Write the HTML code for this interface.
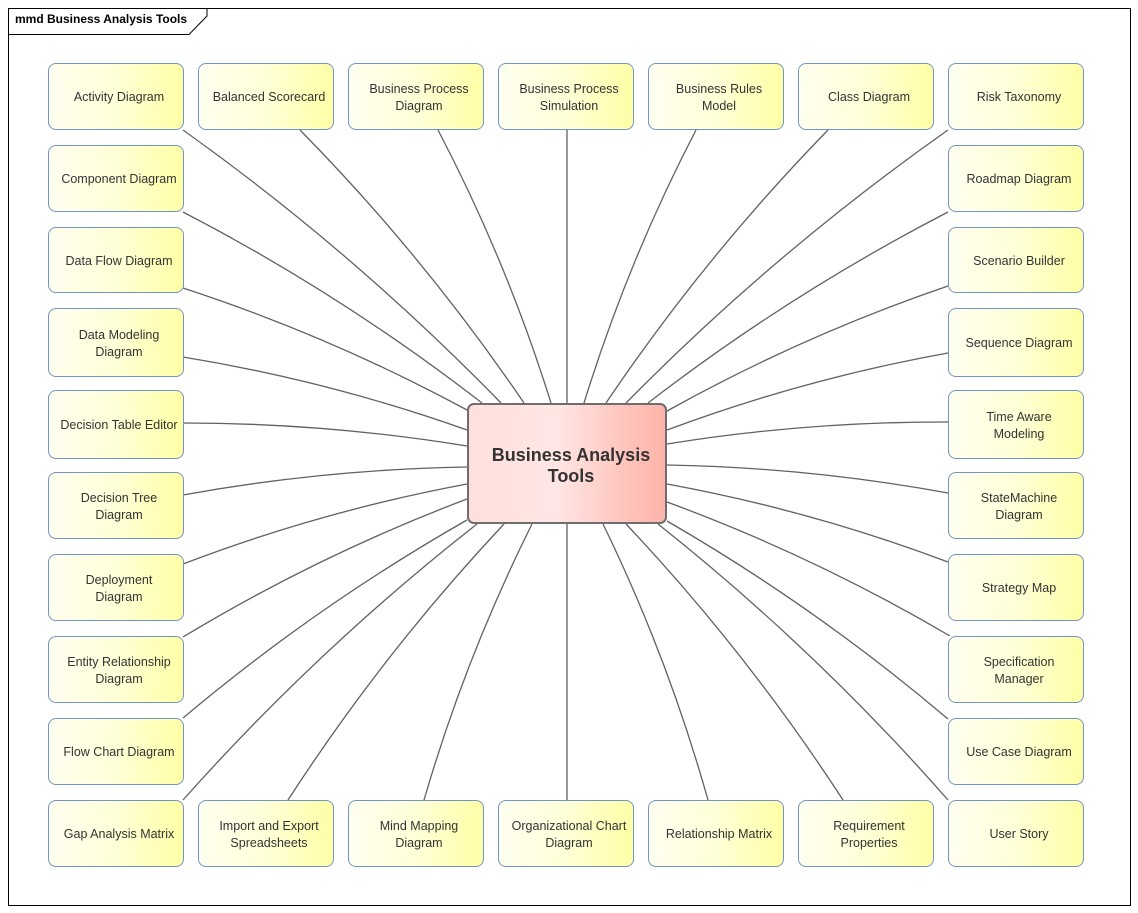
<!DOCTYPE html>
<html>
<head>
<meta charset="utf-8">
<style>
  html, body { margin:0; padding:0; background:#ffffff; }
  body { width:1138px; height:913px; position:relative; overflow:hidden; font-family:"Liberation Sans", Arial, sans-serif; }
  svg.bg { position:absolute; left:0; top:0; }
  .n {
    position:absolute; box-sizing:border-box; width:136px; height:67px;
    border:1.5px solid #7294c4; border-radius:8px;
    background:linear-gradient(to right, #fffff0 0%, #ffffd8 50%, #ffffa6 100%);
    display:flex; align-items:center; justify-content:center;
    padding-left:6px; padding-top:3px;
    font-size:12.5px; line-height:17.5px; color:#333; text-align:center; white-space:nowrap;
  }
  .c {
    position:absolute; box-sizing:border-box; left:467px; top:403px; width:200px; height:121px;
    border:2.5px solid #6e6e6e; border-radius:7px;
    background:linear-gradient(to right, #ffe0de 0%, #ffe6e4 45%, #ffc4bc 80%, #ffb4aa 100%);
    display:flex; align-items:center; justify-content:center; padding-left:8px; padding-top:5px;
    font-weight:bold; font-size:18px; line-height:21px; color:#333; text-align:center;
  }
  .title { position:absolute; left:15px; top:12px; font-weight:bold; font-size:12px; color:#000; white-space:nowrap; }
</style>
</head>
<body>
<svg class="bg" width="1138" height="913" viewBox="0 0 1138 913">
  <rect x="8.5" y="8.5" width="1122" height="897" fill="none" stroke="#000" stroke-width="1"/>
  <path d="M8.5 34.5 H189 L207 16 V8.5" fill="none" stroke="#000" stroke-width="1"/>
  <g fill="none" stroke="#616161" stroke-width="1.3">
    <!-- top row -->
    <path d="M183 130 Q354.3 252.2 501 403"/>
    <path d="M300 130 Q424.3 256.4 524 403"/>
    <path d="M438 130 Q506.8 261.4 551 403"/>
    <path d="M567 130 L567 403"/>
    <path d="M696 130 Q627.7 261.5 584 403"/>
    <path d="M828 130 Q704.7 256.5 606 403"/>
    <path d="M948 130 Q774.7 252 626 403"/>
    <!-- left column -->
    <path d="M183 212 Q341.1 294 482 403"/>
    <path d="M183 288 Q330.5 336.2 467 410"/>
    <path d="M183 357 Q328.3 380.7 467 430"/>
    <path d="M183 423 Q326 423 467 446"/>
    <path d="M183 495 Q323.2 469.5 467 467"/>
    <path d="M183 564 Q320.9 511.3 467 484"/>
    <path d="M183 637 Q318.3 555.3 467 499"/>
    <path d="M183 718 Q315.6 606.3 467 520"/>
    <path d="M183 800 Q317.6 648.8 477 524"/>
    <!-- bottom row -->
    <path d="M288 800 Q383.6 652.3 504 524"/>
    <path d="M424 800 Q465.6 657.1 532 524"/>
    <path d="M567 800 L567 524"/>
    <path d="M708 800 Q667.9 657.3 603 524"/>
    <path d="M843 800 Q746.9 652.2 626 524"/>
    <!-- right column -->
    <path d="M948 800 Q815.4 648.9 658 524"/>
    <path d="M948 719 Q816.4 607.4 667 521"/>
    <path d="M950 636 Q814.5 556.3 667 502"/>
    <path d="M948 562 Q811 510.4 667 484"/>
    <path d="M948 493 Q808.8 467.5 667 465"/>
    <path d="M948 422 Q806.5 421.5 667 444"/>
    <path d="M948 353 Q804 378.9 667 430"/>
    <path d="M948 286 Q801.9 335.9 667 411"/>
    <path d="M948 212 Q789.4 294 648 403"/>
  </g>
</svg>

<div class="title">mmd Business Analysis Tools</div>

<!-- top row -->
<div class="n" style="left:48px;top:63px;">Activity Diagram</div>
<div class="n" style="left:198px;top:63px;">Balanced Scorecard</div>
<div class="n" style="left:348px;top:63px;">Business Process<br>Diagram</div>
<div class="n" style="left:498px;top:63px;">Business Process<br>Simulation</div>
<div class="n" style="left:648px;top:63px;">Business Rules<br>Model</div>
<div class="n" style="left:798px;top:63px;">Class Diagram</div>
<div class="n" style="left:948px;top:63px;">Risk Taxonomy</div>

<!-- left column -->
<div class="n" style="left:48px;top:145px;">Component Diagram</div>
<div class="n" style="left:48px;top:227px;height:66px;">Data Flow Diagram</div>
<div class="n" style="left:48px;top:308px;height:69px;">Data Modeling<br>Diagram</div>
<div class="n" style="left:48px;top:390px;height:69px;">Decision Table Editor</div>
<div class="n" style="left:48px;top:472px;">Decision Tree<br>Diagram</div>
<div class="n" style="left:48px;top:554px;">Deployment<br>Diagram</div>
<div class="n" style="left:48px;top:636px;">Entity Relationship<br>Diagram</div>
<div class="n" style="left:48px;top:718px;">Flow Chart Diagram</div>
<div class="n" style="left:48px;top:800px;">Gap Analysis Matrix</div>

<!-- right column -->
<div class="n" style="left:948px;top:145px;">Roadmap Diagram</div>
<div class="n" style="left:948px;top:227px;height:66px;">Scenario Builder</div>
<div class="n" style="left:948px;top:308px;height:69px;">Sequence Diagram</div>
<div class="n" style="left:948px;top:390px;height:69px;">Time Aware<br>Modeling</div>
<div class="n" style="left:948px;top:472px;">StateMachine<br>Diagram</div>
<div class="n" style="left:948px;top:554px;">Strategy Map</div>
<div class="n" style="left:948px;top:636px;">Specification<br>Manager</div>
<div class="n" style="left:948px;top:718px;">Use Case Diagram</div>
<div class="n" style="left:948px;top:800px;">User Story</div>

<!-- bottom row -->
<div class="n" style="left:198px;top:800px;">Import and Export<br>Spreadsheets</div>
<div class="n" style="left:348px;top:800px;">Mind Mapping<br>Diagram</div>
<div class="n" style="left:498px;top:800px;">Organizational Chart<br>Diagram</div>
<div class="n" style="left:648px;top:800px;">Relationship Matrix</div>
<div class="n" style="left:798px;top:800px;">Requirement<br>Properties</div>

<!-- center -->
<div class="c">Business Analysis<br>Tools</div>
</body>
</html>
